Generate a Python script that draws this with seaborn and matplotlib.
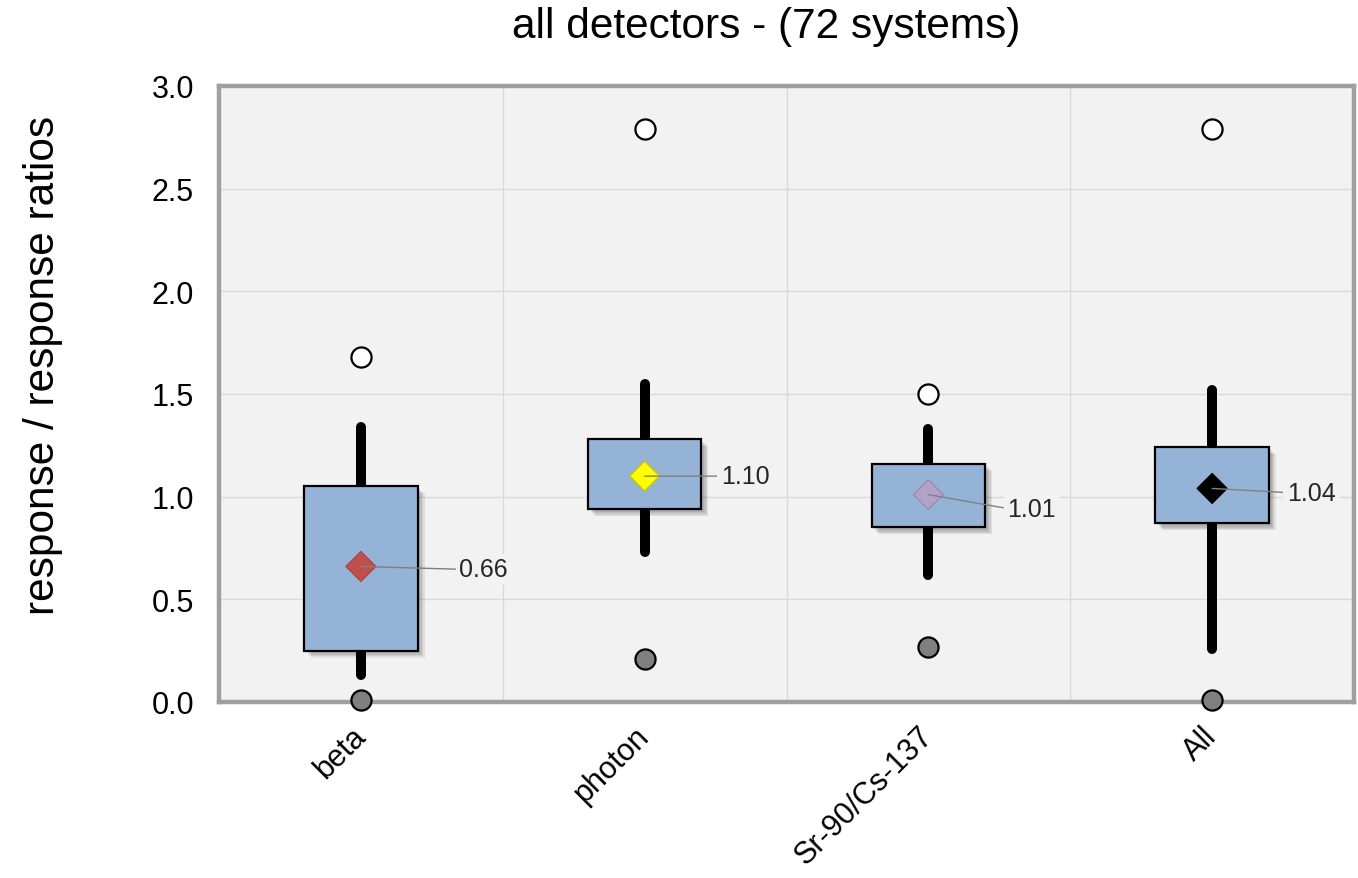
import matplotlib
matplotlib.use("Agg")
import matplotlib.pyplot as plt
import matplotlib.patheffects as pe
import numpy as np
import seaborn as sns

# --- data ---
categories = ["beta", "photon", "Sr-90/Cs-137", "All"]
box_low = [0.25, 0.94, 0.85, 0.87]
box_high = [1.05, 1.28, 1.16, 1.24]
whisker_low = [0.13, 0.73, 0.62, 0.26]
whisker_high = [1.34, 1.55, 1.33, 1.52]
means = [0.66, 1.10, 1.01, 1.04]
maxima = [1.68, 2.79, 1.50, 2.79]
minima = [0.01, 0.21, 0.27, 0.01]
mean_labels = ["0.66", "1.10", "1.01", "1.04"]
mean_colors = ["#C0504D", "#FFFF00", "#B3A2C7", "#000000"]
mean_edges = ["#B04440", "#C8C800", "#9C8CB0", "#000000"]

sns.set_theme(style="whitegrid")
plt.rcParams["font.family"] = ["Liberation Sans", "DejaVu Sans"]

fig = plt.figure(figsize=(13.58, 8.79), dpi=100)
ax = fig.add_axes([219 / 1358, 1 - 703 / 879, 1135 / 1358, 616 / 879])
ax.set_facecolor("#F2F2F2")

# --- boxes + whiskers from summary stats ---
stats = [dict(med=m, q1=lo, q3=hi, whislo=wl, whishi=wh, fliers=[])
         for m, lo, hi, wl, wh in zip(means, box_low, box_high, whisker_low, whisker_high)]
bp = ax.bxp(stats, positions=range(len(categories)), widths=0.4,
            patch_artist=True, showcaps=False, showfliers=False,
            boxprops=dict(facecolor="#95B3D7", edgecolor="black", linewidth=1.6, zorder=3),
            whiskerprops=dict(color="black", linewidth=7.2, solid_capstyle="round", zorder=2),
            medianprops=dict(visible=False))
shadow = [pe.SimplePatchShadow(offset=(d, -d), shadow_rgbFace="black", alpha=0.08) for d in (5, 4, 3, 2)]
for box in bp["boxes"]:
    box.set_path_effects(shadow + [pe.Normal()])

# --- max / min / mean markers ---
sns.scatterplot(x=list(range(4)), y=maxima, color="white", edgecolor="black",
                linewidth=1.6, s=210, zorder=4, ax=ax, clip_on=False, legend=False)
sns.scatterplot(x=list(range(4)), y=minima, color="#808080", edgecolor="black",
                linewidth=1.6, s=210, zorder=4, ax=ax, clip_on=False, legend=False)
sns.scatterplot(x=list(range(4)), y=means, hue=categories, palette=mean_colors,
                edgecolor=mean_edges, linewidth=1, marker="D", s=230, zorder=4,
                ax=ax, legend=False)

label_offsets = [(71, -2), (55, 0), (57, -10), (54, -3)]
for i, (m, txt) in enumerate(zip(means, mean_labels)):
    ax.annotate(txt, xy=(i, m), xytext=label_offsets[i], textcoords="offset points",
                ha="left", va="center", fontsize=18, color="#262626",
                bbox=dict(boxstyle="square,pad=0.15", fc="#F2F2F2", ec="none"),
                arrowprops=dict(arrowstyle="-", color="#808080", lw=1,
                                shrinkA=0, shrinkB=0, relpos=(0, 0.5)),
                zorder=5)

# --- axes styling ---
ax.set_xlim(-0.5, 3.5)
ax.set_ylim(0, 3.0)
ax.set_yticks(np.arange(0, 3.01, 0.5))
ax.set_yticklabels([f"{v:.1f}" for v in np.arange(0, 3.01, 0.5)])
ax.set_xticks(range(len(categories)))
ax.set_xticklabels(categories, rotation=45, ha="right", va="center", rotation_mode="anchor")
ax.set_xticks([0.5, 1.5, 2.5], minor=True)
ax.grid(False)
ax.grid(True, axis="y", which="major", color="#D9D9D9", linewidth=1)
ax.grid(True, axis="x", which="minor", color="#D9D9D9", linewidth=1)
ax.set_axisbelow(True)
ax.tick_params(axis="y", length=0, pad=18, labelsize=22, labelcolor="black")
ax.tick_params(axis="x", which="major", length=0, pad=21, labelsize=22, labelcolor="black")
ax.tick_params(axis="x", which="minor", length=0)
for sp in ax.spines.values():
    sp.set_visible(True)
    sp.set_color("#A0A0A0")
    sp.set_linewidth(3.2)

fig.text(766 / 1358, 1 - 27 / 879, "all detectors - (72 systems)", fontsize=30.5,
         ha="center", va="center", color="black")
fig.text(43 / 1358, 1 - 365 / 879, "response / response ratios", fontsize=30.5,
         rotation=90, ha="center", va="center", color="black")

fig.savefig("out.png", dpi=100)
